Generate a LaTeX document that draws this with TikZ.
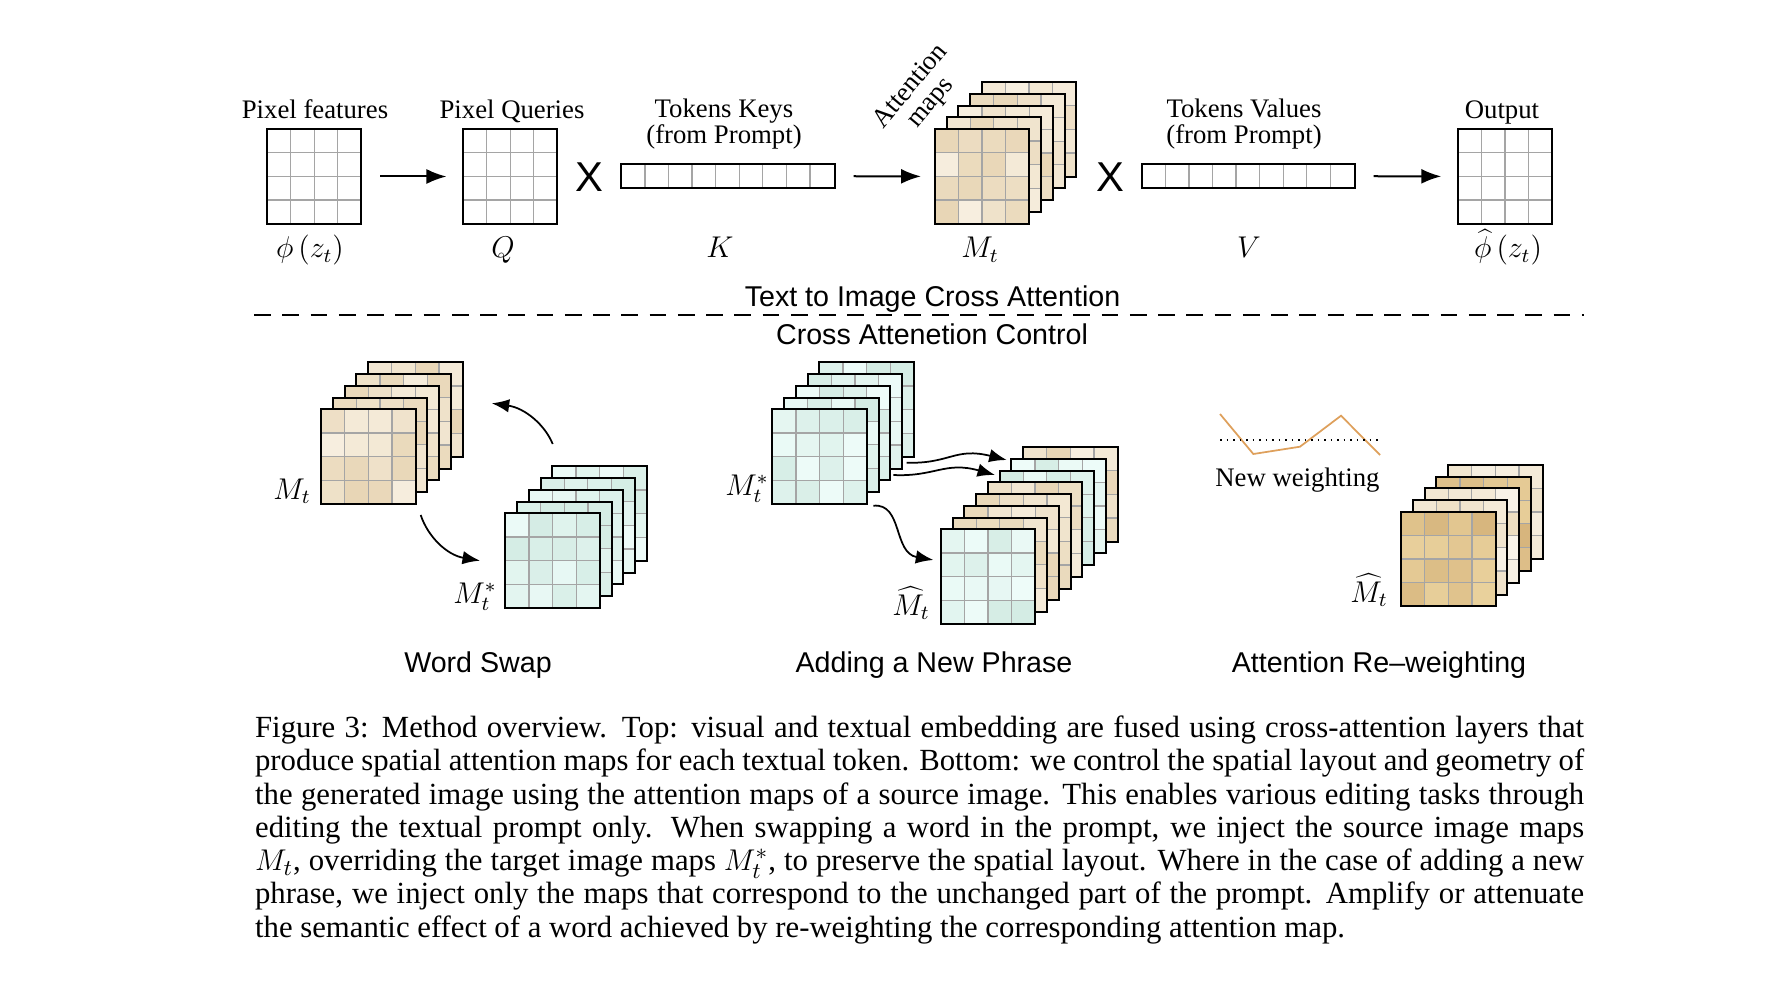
\documentclass[tikz,border=0pt]{standalone}
\usepackage{fontspec}
\setmainfont{Liberation Serif}
\newfontfamily\helv{Liberation Sans}
\usetikzlibrary{arrows.meta,positioning}

\definecolor{beigeA}{RGB}{232,214,182}
\definecolor{beigeB}{RGB}{247,239,224}
\definecolor{cyanA}{RGB}{212,236,228}
\definecolor{cyanB}{RGB}{238,252,249}
\definecolor{goldA}{RGB}{214,180,124}
\definecolor{goldB}{RGB}{234,210,158}
\definecolor{creamA}{RGB}{236,220,190}
\definecolor{creamB}{RGB}{249,244,234}
\definecolor{whiteA}{RGB}{255,255,255}
\definecolor{whiteB}{RGB}{255,255,255}
\definecolor{gridgray}{RGB}{165,165,165}
\definecolor{wcurve}{RGB}{222,160,92}

\newcommand{\lblfont}{\fontsize{10.7}{10.4}\selectfont}
\newcommand{\mlblfont}{\fontsize{11.5}{12}\selectfont}
\newcommand{\headfont}{\helv\fontsize{11.45}{12}\selectfont}
\newcommand{\crossfont}{\helv\fontsize{16.7}{17}\selectfont}
\newcommand{\capfont}{\fontsize{12.3}{13.3}\selectfont}

% one 4x4 map, centre #1,#2, palette #3
\newcommand{\mapcells}[3]{%
  \foreach \i in {0,...,3}{
    \foreach \j in {0,...,3}{
      \pgfmathsetmacro{\mix}{int(random(0,100))}
      \fill[#3A!\mix!#3B] ({#1-47.25+\i*23.625},{#2-47.25+\j*23.625}) rectangle ++(23.625,23.625);
    }}
  \foreach \g in {1,2,3}{
    \draw[cellline] ({#1-47.25+\g*23.625},{#2-47.25}) -- ++(0,94.5);
    \draw[cellline] ({#1-47.25},{#2-47.25+\g*23.625}) -- ++(94.5,0);
  }
  \draw[mapframe] ({#1-47.25},{#2-47.25}) rectangle ++(94.5,94.5);
}
% stack of maps, back to front, front one named #1
\newcommand{\mapstack}[4]{%
  \foreach \k/\pal in {#4}{\mapcells{#2+\k*11.75}{#3-\k*11.75}{\pal}}
  \node[mapbox] (#1) at (#2,#3) {};
}
% token bar with nine cells
\newcommand{\tokenbar}[3]{%
  \node[bar] (#1) at (#2,#3) {};
  \foreach \g in {1,...,8}
    \draw[cellline] ([xshift=\g*9.436pt]#1.north west) -- ([xshift=\g*9.436pt]#1.south west);
  \draw[mapframe] (#1.north west) rectangle (#1.south east);
}

\begin{document}
\begin{tikzpicture}[x=0.4pt,y=-0.4pt]
  \tikzset{
    mapbox/.style={inner sep=0pt, minimum size=37.8pt},
    bar/.style={inner sep=0pt, minimum width=84.9pt, minimum height=9.36pt},
    cellline/.style={draw=gridgray, line width=0.5pt},
    mapframe/.style={draw=black, line width=0.8pt},
    lbl/.style={font=\lblfont, inner sep=0pt},
    mlbl/.style={font=\mlblfont, inner sep=0pt},
    head/.style={font=\headfont, inner sep=0pt},
    cross/.style={font=\crossfont, inner sep=0pt},
    arr/.style={-{Latex[length=8pt,width=6pt]}, line width=0.8pt},
    curvy/.style={-{Latex[length=7pt,width=5.4pt]}, line width=0.7pt},
    sepline/.style={line width=0.7pt, dash pattern=on 6.7pt off 4.6pt},
    wline/.style={draw=wcurve, line width=0.7pt},
  }
  \useasboundingbox (0,0) rectangle (1790,992);
  \pgfmathsetseed{11}

  % top: cross attention
  \mapstack{pf}{314.2}{176.5}{0/white}
  \node[lbl, anchor=base] (pftxt) at (315,118.5) {Pixel features};
  \node[mlbl, anchor=base] (phi) at (310,258) {$\phi\left(z_t\right)$};

  \mapstack{pq}{510.2}{176.5}{0/white}
  \node[lbl, anchor=base] (pqtxt) at (512,118.5) {Pixel Queries};
  \node[mlbl, anchor=base] (qlbl) at (503,258) {$Q$};
  \draw[arr, shorten <=7.3pt, shorten >=6.4pt] (pf) -- (pq);

  \node[cross] (x1) at (589,177) {X};

  \tokenbar{kbar}{727.9}{176}
  \node[lbl, anchor=south, align=center] (ktxt) at (724,150) {Tokens Keys\\(from Prompt)};
  \node[mlbl, anchor=base] (klbl) at (720,258) {$K$};

  \mapstack{mt}{982}{176.5}{4/beige,3/beige,2/beige,1/beige,0/beige}
  \node[lbl, rotate=50, align=center] (mttxt) at (921,95) {Attention\\maps};
  \node[mlbl, anchor=base] (mtlbl) at (980,258) {$M_t$};
  \draw[arr, shorten <=7.6pt, shorten >=5.3pt] (kbar) -- (mt);

  \node[cross] (x2) at (1110,177) {X};

  \tokenbar{vbar}{1248.3}{176}
  \node[lbl, anchor=south, align=center] (vtxt) at (1244,150) {Tokens Values\\(from Prompt)};
  \node[mlbl, anchor=base] (vlbl) at (1249,258) {$V$};

  \mapstack{out}{1505}{176.5}{0/white}
  \node[lbl, anchor=base] (outtxt) at (1502,118.5) {Output};
  \node[mlbl, anchor=base] (phihat) at (1508,258) {$\widehat{\phi}\left(z_t\right)$};
  \draw[arr, shorten <=7.5pt, shorten >=6.4pt] (vbar) -- (out);

  % separator
  \coordinate (sepL) at (254,315);
  \coordinate (sepR) at (1584,315);
  \draw[sepline] (sepL) -- (sepR);
  \node[head, anchor=base] (toptitle) at (932.5,306.7) {Text to Image Cross Attention};
  \node[head, anchor=base] (bottitle) at (932,344.5) {Cross Attenetion Control};

  % word swap
  \mapstack{swM}{368.3}{456.5}{4/beige,3/beige,2/beige,1/beige,0/beige}
  \node[mlbl, anchor=base] (swMlbl) at (292,499) {$M_t$};
  \mapstack{swS}{552.5}{560.5}{4/cyan,3/cyan,2/cyan,1/cyan,0/cyan}
  \node[mlbl, anchor=base] (swSlbl) at (475,603) {$M_t^*$};
  \coordinate (swA) at (552.7,444);
  \coordinate (swB) at (491.7,403.3);
  \coordinate (swC) at (420.7,515);
  \coordinate (swD) at (480,560.7);
  \draw[curvy] (swA) .. controls (545,425) and (525,408) .. (swB);
  \draw[curvy] (swC) .. controls (428,537) and (447,555) .. (swD);
  \node[head, anchor=base] (swtxt) at (478,672) {Word Swap};

  % adding a new phrase
  \mapstack{apS}{819.7}{456.5}{4/cyan,3/cyan,2/cyan,1/cyan,0/cyan}
  \node[mlbl, anchor=base] (apSlbl) at (747,495) {$M_t^*$};
  \mapstack{apH}{988}{576.6}{7/beige,6/cyan,5/cyan,4/beige,3/beige,2/beige,1/beige,0/cyan}
  \node[mlbl, anchor=base] (apHlbl) at (911,615) {$\widehat{M}_t$};
  \coordinate (apA) at (906.7,462.7);
  \coordinate (apB) at (1006.7,460);
  \coordinate (apC) at (893.3,475);
  \coordinate (apD) at (995,475);
  \coordinate (apE) at (873.3,505.7);
  \coordinate (apF) at (933.3,560);
  \draw[curvy] (apA) .. controls (950,464) and (955,447) .. (apB);
  \draw[curvy] (apC) .. controls (935,477) and (945,461) .. (apD);
  \draw[curvy] (apE) .. controls (903,503) and (893,553) .. (apF);
  \node[head, anchor=base] (aptxt) at (934,672) {Adding a New Phrase};

  % re-weighting
  \draw[wline] (1220,414) -- (1253.3,454) -- (1300,446.7) -- (1341,415.7) -- (1380,455);
  \draw[dotted, line width=0.6pt] (1220,440) -- (1380,440);
  \node[lbl, anchor=base] (nwtxt) at (1297.5,486) {New weighting};
  \mapstack{rwH}{1448.3}{559}{4/cream,3/gold,2/cream,1/cream,0/gold}
  \node[mlbl, anchor=base] (rwHlbl) at (1369,602) {$\widehat{M}_t$};
  \node[head, anchor=base] (rwtxt) at (1379,672) {Attention Re–weighting};

  % caption
  \node[font=\capfont, inner sep=0pt, text width=531.6pt, align=justify, anchor=base west] (cap) at (254.6,737.6)
    {Figure 3: Method overview. Top: visual and textual embedding are fused using cross-attention layers that\linebreak
     produce spatial attention maps for each textual token. Bottom: we control the spatial layout and geometry of\linebreak
     the generated image using the attention maps of a source image. This enables various editing tasks through\linebreak
     editing the textual prompt only. When swapping a word in the prompt, we inject the source image maps\linebreak
     $M_t$, overriding the target image maps $M_t^*$, to preserve the spatial layout. Where in the case of adding a new\linebreak
     phrase, we inject only the maps that correspond to the unchanged part of the prompt. Amplify or attenuate\linebreak
     the semantic effect of a word achieved by re-weighting the corresponding attention map.};
\end{tikzpicture}
\end{document}
